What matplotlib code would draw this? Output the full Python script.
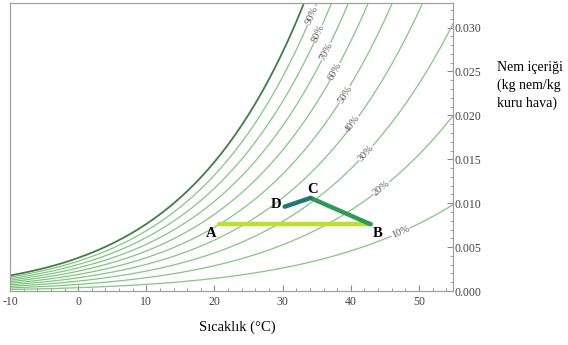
import numpy as np
import matplotlib
matplotlib.use("Agg")
import matplotlib.pyplot as plt
from matplotlib.ticker import MultipleLocator

plt.rcParams['axes.unicode_minus'] = False

# saturation vapour pressure of water (kPa), steam table, -10..55 C
temps = list(range(-10, 56))
p_sat = [0.2863, 0.3100, 0.3354, 0.3626, 0.3916, 0.4222, 0.4544, 0.4895, 0.5269, 0.5675,
         0.6113, 0.6571, 0.7060, 0.7581, 0.8135, 0.8726, 0.9354, 1.0021, 1.0730, 1.1482,
         1.2282, 1.3130, 1.4028, 1.4981, 1.5990, 1.7057, 1.8188, 1.9383, 2.0647, 2.1982,
         2.3392, 2.4881, 2.6452, 2.8109, 2.9856, 3.1697, 3.3637, 3.5679, 3.7828, 4.0089,
         4.2467, 4.4966, 4.7592, 5.0351, 5.3247, 5.6286, 5.9475, 6.2818, 6.6324, 6.9997,
         7.3844, 7.7873, 8.2090, 8.6503, 9.1118, 9.5944, 10.099, 10.626, 11.175, 11.748,
         12.346, 12.970, 13.623, 14.303, 15.012, 15.752]
p_atm = 101.325

rh_levels = [100, 90, 80, 70, 60, 50, 40, 30, 20, 10]
# humidity ratio where each contour label sits
label_w = {90: 0.0314, 80: 0.0293, 70: 0.0273, 60: 0.0250, 50: 0.0224,
           40: 0.0190, 30: 0.0157, 20: 0.0117, 10: 0.0067}

# process points A-B-C-D (temperature C, humidity ratio)
pt_names = ["A", "B", "C", "D"]
pt_T = [20.6, 42.9, 34.1, 30.3]
pt_w = [0.0076, 0.0076, 0.0106, 0.0096]
seg_colors = ["#bde12a", "#2f9a55", "#1e7878"]
letter_off = {"A": (-1.1, -0.0011), "B": (1.1, -0.0010), "C": (0.3, 0.0010), "D": (-1.3, 0.0003)}

T = np.array(temps, dtype=float)
ps = np.array(p_sat)


def hum_ratio(rh):
    pv = rh / 100.0 * ps
    return 0.622 * pv / (p_atm - pv)


fig = plt.figure(figsize=(5.68, 3.45), dpi=100)
ax = fig.add_axes([10 / 568, 54 / 345, 443 / 568, 288 / 345])
ax.set_xlim(-10, 55)
ax.set_ylim(0, 0.0328)

for rh in rh_levels:
    if rh == 100:
        ax.plot(T, hum_ratio(rh), color="#3f7f3f", lw=1.3, zorder=2)
    else:
        ax.plot(T, hum_ratio(rh), color="#82c682", lw=0.9, zorder=2)

# contour labels rotated along the curves
for rh, wl in label_w.items():
    w = hum_ratio(rh)
    tl = np.interp(wl, w, T)
    p1 = ax.transData.transform((tl - 0.5, np.interp(tl - 0.5, T, w)))
    p2 = ax.transData.transform((tl + 0.5, np.interp(tl + 0.5, T, w)))
    ang = np.degrees(np.arctan2(p2[1] - p1[1], p2[0] - p1[0]))
    ax.text(tl, wl, "%d%%" % rh, rotation=ang, rotation_mode="anchor",
            ha="center", va="center", fontsize=7.5, color="#555555",
            family="Liberation Serif", zorder=3,
            bbox=dict(fc="white", ec="none", pad=0.3))

# process lines
for i in range(3):
    j = (i + 1) % 4
    ax.plot([pt_T[i], pt_T[j]], [pt_w[i], pt_w[j]], color=seg_colors[i],
            lw=3.2, solid_capstyle="round", zorder=4)
for n, t, w in zip(pt_names, pt_T, pt_w):
    dx, dy = letter_off[n]
    ax.text(t + dx, w + dy, n, fontsize=10.5, fontweight="bold",
            family="Liberation Serif", ha="center", va="center", zorder=5)

# frame and ticks
for s in ax.spines.values():
    s.set_color("#a0a0a0")
    s.set_linewidth(0.9)
ax.yaxis.tick_right()
ax.xaxis.set_major_locator(MultipleLocator(10))
ax.xaxis.set_minor_locator(MultipleLocator(2))
ax.yaxis.set_major_locator(MultipleLocator(0.005))
ax.yaxis.set_minor_locator(MultipleLocator(0.001))
ax.yaxis.set_major_formatter(matplotlib.ticker.FormatStrFormatter("%.3f"))
ax.tick_params(which="both", direction="in", color="#888888",
               labelsize=8.5, labelcolor="#444444", top=False, left=False)
ax.tick_params(which="major", length=4)
ax.tick_params(which="minor", length=2)
ax.tick_params(axis="y", pad=1)
for lab in ax.get_xticklabels() + ax.get_yticklabels():
    lab.set_family("Liberation Serif")

fig.text(237 / 568, 1 - 327 / 345, "Sıcaklık (°C)", fontsize=10.5,
         family="Liberation Serif", ha="center", va="center")
fig.text(497 / 568, 1 - 61 / 345, "Nem içeriği\n(kg nem/kg\nkuru hava)",
         fontsize=10, family="Liberation Serif", ha="left", va="top",
         linespacing=1.45)

fig.savefig("out.png", dpi=100)
